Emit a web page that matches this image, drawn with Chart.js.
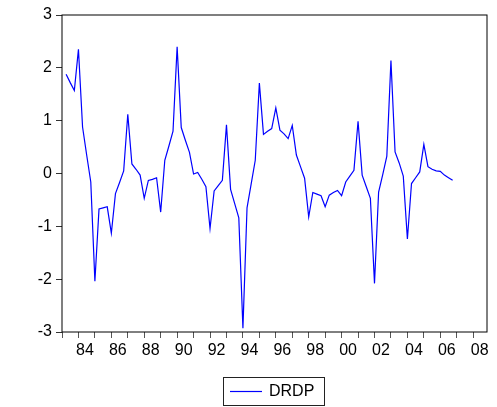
<!DOCTYPE html>
<html>
<head>
<meta charset="utf-8">
<script src="https://cdn.jsdelivr.net/npm/chart.js@4"></script>
<style>
  html, body { margin: 0; padding: 0; background: #fff; }
  #chart { display: block; }
</style>
</head>
<body>
<canvas id="chart" width="497" height="407"></canvas>
<script>
// quarterly series, 1983Q2 .. 2006Q4
const startYear = 1983.25;
const seriesLabel = 'DRDP';
const drdp = [
    1.88, 1.72, 1.57, 2.35, 0.88, 0.35, -0.16, -2.04, -0.67, -0.65, -0.63, -1.13, -0.38, -0.17, 0.05, 1.12,
    0.18, 0.08, -0.03, -0.47, -0.13, -0.11, -0.08, -0.73, 0.25, 0.52, 0.80, 2.40, 0.87, 0.63, 0.40, -0.01,
    0.02, -0.11, -0.25, -1.04, -0.33, -0.23, -0.13, 0.92, -0.30, -0.57, -0.84, -2.93, -0.65, -0.20, 0.25, 1.71,
    0.74, 0.80, 0.85, 1.24, 0.82, 0.75, 0.66, 0.91, 0.35, 0.13, -0.09, -0.82, -0.36, -0.39, -0.42, -0.63,
    -0.41, -0.36, -0.32, -0.42, -0.16, -0.05, 0.06, 0.99, -0.03, -0.25, -0.47, -2.08, -0.35, -0.02, 0.33, 2.14,
    0.41, 0.20, -0.05, -1.24, -0.19, -0.08, 0.03, 0.55, 0.13, 0.08, 0.05, 0.04, -0.03, -0.08, -0.13
];
const yearTicks = [1983, 1984, 1985, 1986, 1987, 1988, 1989, 1990, 1991, 1992, 1993, 1994, 1995,
    1996, 1997, 1998, 1999, 2000, 2001, 2002, 2003, 2004, 2005, 2006, 2007, 2008];
const yTicks = [-3, -2, -1, 0, 1, 2, 3];

const FONT = "'Liberation Sans', Arial, sans-serif";
const points = drdp.map((v, i) => ({ x: startYear + i / 4, y: v }));

// frame around the plot + boxed legend under the axis
const framePlugin = {
    id: 'frameAndLegend',
    afterDraw(chart) {
        const { ctx, chartArea: a } = chart;
        ctx.save();
        ctx.strokeStyle = '#000';
        ctx.lineWidth = 1;
        ctx.strokeRect(a.left, a.top, a.right - a.left, a.bottom - a.top);

        // legend box
        ctx.strokeStyle = '#222';
        ctx.strokeRect(223.5, 377.5, 101, 28);
        ctx.strokeStyle = '#0000ff';
        ctx.lineWidth = 1.2;
        ctx.beginPath();
        ctx.moveTo(230, 391.5);
        ctx.lineTo(262, 391.5);
        ctx.stroke();
        ctx.fillStyle = '#000';
        ctx.font = '16px ' + FONT;
        ctx.textBaseline = 'middle';
        ctx.fillText(seriesLabel, 269, 392);
        ctx.restore();
    }
};

new Chart(document.getElementById('chart'), {
    type: 'line',
    data: {
        datasets: [{
            label: seriesLabel,
            data: points,
            borderColor: '#0000ff',
            borderWidth: 1.2,
            pointRadius: 0,
            tension: 0,
            fill: false
        }]
    },
    options: {
        responsive: false,
        animation: false,
        layout: { padding: { left: 0, top: 15, right: 10, bottom: 0 } },
        plugins: { legend: { display: false }, tooltip: { enabled: false } },
        scales: {
            x: {
                type: 'linear',
                min: 1983,
                max: 2008.84,
                afterBuildTicks: s => { s.ticks = yearTicks.map(v => ({ value: v })); },
                afterFit: s => { s.height = 75; },
                grid: { drawOnChartArea: false, tickLength: 6, color: '#555' },
                border: { display: false },
                ticks: {
                    autoSkip: false,
                    maxRotation: 0,
                    padding: 3,
                    labelOffset: 6.5,
                    color: '#000',
                    font: { family: FONT, size: 16 },
                    callback: v => (v % 2 === 0 ? String(v % 100).padStart(2, '0') : '')
                }
            },
            y: {
                min: -3,
                max: 3,
                afterBuildTicks: s => { s.ticks = yTicks.map(v => ({ value: v })); },
                afterFit: s => { s.width = 62; },
                grid: { drawOnChartArea: false, tickLength: 6, color: '#333' },
                border: { display: false },
                ticks: {
                    padding: 4,
                    color: '#000',
                    font: { family: FONT, size: 16 }
                }
            }
        }
    },
    plugins: [framePlugin]
});
</script>
</body>
</html>
